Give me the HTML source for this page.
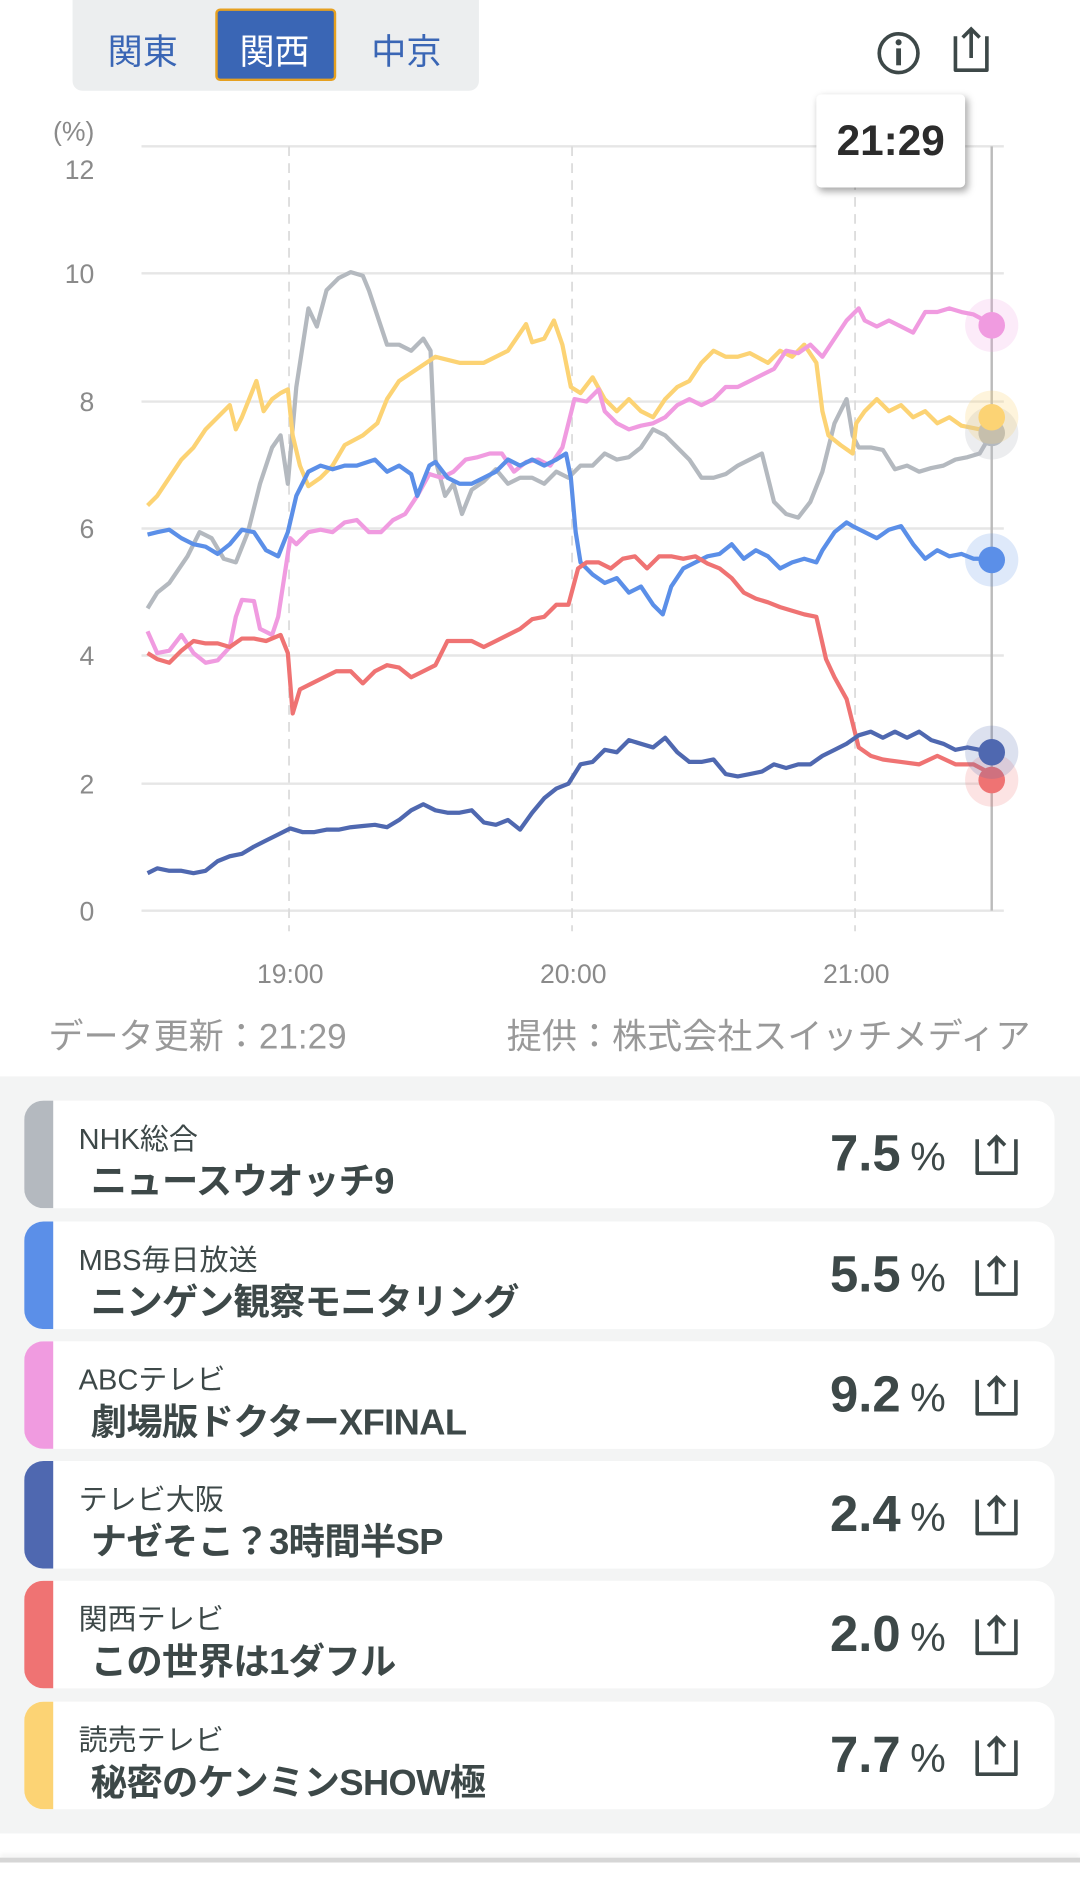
<!DOCTYPE html>
<html><head><meta charset="utf-8">
<style>
html,body{margin:0;padding:0;width:1080px;height:1896px;overflow:hidden;background:#fff}
#w{position:absolute;left:0;top:0;width:893px;height:1568px;transform:scale(1.20941);transform-origin:0 0;font-family:"Liberation Sans","Noto Sans CJK JP",sans-serif;color:#3d4848}
.abs{position:absolute}
.card{position:absolute;left:20px;width:852px;height:89px;background:#fff;border-radius:16px;overflow:hidden}
.bar{position:absolute;left:0;top:0;width:24px;height:89px}
.ch{position:absolute;left:45px;top:12px;font-size:24px;color:#3d4848;white-space:nowrap}
.pg{position:absolute;left:55px;top:42px;font-size:30px;font-weight:bold;color:#3d4848;white-space:nowrap;letter-spacing:-0.5px}
.val{position:absolute;right:90px;top:20px;font-size:42px;font-weight:bold;color:#3d4848;white-space:nowrap}
.val span{font-size:33px;font-weight:normal;margin-left:8px}
.sh{position:absolute;left:784px;top:26px}
</style></head><body><div id="w">
<div class="abs" style="left:60px;top:0;width:336px;height:75px;background:#eceeef;border-radius:0 0 8px 8px"></div>
<div class="abs" style="left:178px;top:7px;width:96px;height:56px;background:#3a66b5;border:2px solid #e6a020;border-radius:4px"></div>
<div class="abs" style="left:89px;top:20px;font-size:29px;color:#3a66b5">関東</div>
<div class="abs" style="left:198px;top:20px;font-size:29px;color:#fff">関西</div>
<div class="abs" style="left:307px;top:20px;font-size:29px;color:#3a66b5">中京</div>
<svg class="abs" style="left:0;top:0" width="893" height="900">
<circle cx="743" cy="44" r="16" fill="none" stroke="#3d4848" stroke-width="3"/>
<circle cx="743" cy="35" r="2.5" fill="#3d4848"/><rect x="741" y="40" width="4" height="14" fill="#3d4848"/>
<path d="M790 30 v28 h26 v-28" fill="none" stroke="#3d4848" stroke-width="3" stroke-linejoin="round"/>
<path d="M803 48 v-24 M796 31 l7 -7 l7 7" fill="none" stroke="#3d4848" stroke-width="3"/>
<g stroke="#e6e6e6" stroke-width="2">
<line x1="117" y1="121" x2="830" y2="121"/><line x1="117" y1="226" x2="830" y2="226"/><line x1="117" y1="332" x2="830" y2="332"/><line x1="117" y1="437" x2="830" y2="437"/><line x1="117" y1="542" x2="830" y2="542"/><line x1="117" y1="648" x2="830" y2="648"/><line x1="117" y1="753" x2="830" y2="753"/>
</g>
<g stroke="#dcdcdc" stroke-width="1.5" stroke-dasharray="8 6">
<line x1="239" y1="121" x2="239" y2="770"/><line x1="473" y1="121" x2="473" y2="770"/><line x1="707" y1="121" x2="707" y2="770"/>
</g>
<line x1="820" y1="121" x2="820" y2="753" stroke="#bbb" stroke-width="2"/>
<g font-size="22" fill="#8a8a8a" text-anchor="end">
<text x="78" y="116">(%)</text><text x="78" y="148">12</text><text x="78" y="234">10</text><text x="78" y="340">8</text><text x="78" y="445">6</text><text x="78" y="550">4</text><text x="78" y="656">2</text><text x="78" y="761">0</text>
</g>
<g font-size="22" fill="#8a8a8a" text-anchor="middle"><text x="240" y="813">19:00</text><text x="474" y="813">20:00</text><text x="708" y="813">21:00</text></g>
<g fill="none" stroke-width="3.5" stroke-linejoin="round">
<polyline stroke="#b4b9bf" points="122,503 130,490 140,482 155,460 165,440 175,445 185,462 195,465 205,440 215,400 225,370 232,360 238,400 245,320 255,255 262,270 270,240 280,230 290,225 300,228 305,240 315,270 320,285 330,285 340,290 350,280 356,290 360,380 368,410 375,400 382,425 390,405 400,398 410,388 420,400 430,395 440,395 450,400 460,390 470,395 480,385 490,385 500,375 510,380 520,378 530,370 540,355 550,360 560,370 570,380 580,395 590,395 600,392 610,385 620,380 630,375 640,415 650,425 660,428 670,415 680,390 690,350 700,330 705,360 710,370 720,370 730,372 740,388 750,385 760,390 770,387 780,385 790,380 800,378 810,375 820,358"/>
<polyline stroke="#fcd374" points="122,418 130,410 140,395 150,380 160,370 170,355 180,345 190,335 195,355 200,345 212,315 218,340 225,330 232,325 238,322 242,360 248,385 255,402 265,395 275,385 285,368 300,360 312,350 320,330 330,315 345,305 360,295 380,300 400,300 420,290 435,268 440,283 450,280 458,265 465,285 472,320 480,325 490,312 500,330 510,340 520,330 530,340 540,345 550,330 560,320 570,315 580,300 590,290 600,295 610,295 620,292 635,300 645,290 655,295 665,285 675,300 680,340 685,360 695,368 705,375 708,350 715,340 725,330 735,340 745,335 755,345 765,340 775,350 785,345 795,352 810,355 820,345"/>
<polyline stroke="#f09be0" points="122,522 130,540 140,538 150,525 160,540 170,548 180,546 190,535 195,510 200,496 210,497 215,520 225,525 230,510 240,445 245,450 255,440 265,438 275,440 285,432 295,430 305,440 315,440 325,430 335,425 345,410 355,392 365,395 375,390 385,380 395,378 405,375 415,375 425,390 435,382 445,380 455,385 465,370 475,330 485,332 495,322 500,340 510,350 520,355 530,352 540,350 550,345 560,335 570,330 580,335 590,330 600,320 610,320 620,315 630,310 640,305 650,290 660,292 670,285 680,295 690,280 700,265 710,255 715,265 725,270 735,265 745,270 755,275 765,258 775,258 785,255 795,258 805,260 820,268"/>
<polyline stroke="#5b8fe8" points="122,442 130,440 140,438 150,445 160,450 170,452 180,458 190,450 200,438 210,440 220,455 230,460 238,440 245,410 255,390 265,385 275,388 285,385 295,385 310,380 320,390 330,385 340,392 345,410 355,385 360,382 370,395 380,400 390,400 400,395 410,390 420,380 430,385 440,380 450,385 460,380 468,375 472,395 476,440 480,465 490,475 500,482 510,478 520,490 530,485 540,500 548,508 555,485 565,470 575,465 585,460 595,458 605,450 615,462 625,455 635,460 645,470 655,465 665,462 675,465 680,455 690,440 700,432 705,435 715,440 725,445 735,438 745,435 755,450 765,462 775,455 785,460 795,458 805,462 820,462"/>
<polyline stroke="#ef7373" points="122,540 130,545 140,548 150,538 160,530 170,532 180,532 190,535 200,528 210,528 220,530 232,525 238,540 242,590 248,570 258,565 268,560 278,555 290,555 300,565 310,555 320,550 330,552 340,560 350,555 360,550 370,530 380,530 390,530 400,535 410,530 420,525 430,520 440,512 450,510 460,500 470,500 478,470 485,465 495,465 505,470 515,462 525,460 535,470 545,460 555,460 565,462 575,460 585,466 595,470 605,478 615,490 625,495 635,498 645,502 655,505 665,508 675,510 683,545 690,560 700,578 710,618 720,625 730,628 745,630 760,632 775,625 790,632 805,632 820,640"/>
<polyline stroke="#4f68b0" points="122,722 130,718 140,720 150,720 160,722 170,720 180,712 190,708 200,706 210,700 220,695 230,690 240,685 250,688 260,688 270,686 280,686 290,684 300,683 310,682 320,684 330,678 340,670 350,665 360,670 370,672 380,672 390,670 400,680 410,682 420,678 430,686 440,672 450,660 460,652 470,648 480,632 490,630 500,620 510,622 520,612 530,615 540,618 550,610 560,622 570,630 580,630 590,628 600,640 610,642 620,640 630,638 640,632 650,635 660,632 670,632 680,625 690,620 700,615 710,608 720,605 730,610 740,605 750,610 760,605 770,612 780,615 790,620 800,618 820,622"/>
</g>
<g>
<circle cx="820" cy="269" r="22" fill="#f09be0" opacity=".2"/><circle cx="820" cy="269" r="11" fill="#f09be0"/>
<circle cx="820" cy="358" r="22" fill="#b4b9bf" opacity=".25"/><circle cx="820" cy="358" r="11" fill="#b4b9bf"/>
<circle cx="820" cy="345" r="22" fill="#fcd374" opacity=".25"/><circle cx="820" cy="345" r="11" fill="#fcd374"/>
<circle cx="820" cy="463" r="22" fill="#5b8fe8" opacity=".2"/><circle cx="820" cy="463" r="11" fill="#5b8fe8"/>
<circle cx="820" cy="645" r="22" fill="#ef7373" opacity=".2"/><circle cx="820" cy="645" r="11" fill="#ef7373"/>
<circle cx="820" cy="622" r="22" fill="#4f68b0" opacity=".2"/><circle cx="820" cy="622" r="11" fill="#4f68b0"/>
</g>
</svg>
<div class="abs" style="left:675px;top:78px;width:123px;height:77px;background:#fff;border-radius:4px;box-shadow:2px 3px 6px rgba(0,0,0,.35);text-align:center;line-height:77px;font-size:35px;font-weight:bold;color:#2c2c2c">21:29</div>
<div class="abs" style="left:40px;top:834px;font-size:29px;color:#999">データ更新：21:29</div>
<div class="abs" style="right:41px;top:834px;font-size:29px;color:#999">提供：株式会社スイッチメディア</div>
<div class="abs" style="left:0;top:890px;width:893px;height:626px;background:#f3f4f4"></div>
<div class="abs" style="left:0;top:1536px;width:893px;height:4px;background:#d6d6d6;box-shadow:0 -3px 4px rgba(0,0,0,.05)"></div>

<div class="card" style="top:910px"><div class="bar" style="background:#b4b9bf"></div><div class="ch">NHK総合</div><div class="pg">ニュースウオッチ9</div><div class="val">7.5<span>%</span></div><svg class="sh" width="40" height="40"><path d="M4 6 v28 h32 v-28" fill="none" stroke="#3d4848" stroke-width="3" stroke-linejoin="round"/><path d="M20 26 v-22 M13 11 l7 -7 l7 7" fill="none" stroke="#3d4848" stroke-width="3"/></svg></div>
<div class="card" style="top:1010px"><div class="bar" style="background:#5b8fe8"></div><div class="ch">MBS毎日放送</div><div class="pg">ニンゲン観察モニタリング</div><div class="val">5.5<span>%</span></div><svg class="sh" width="40" height="40"><path d="M4 6 v28 h32 v-28" fill="none" stroke="#3d4848" stroke-width="3" stroke-linejoin="round"/><path d="M20 26 v-22 M13 11 l7 -7 l7 7" fill="none" stroke="#3d4848" stroke-width="3"/></svg></div>
<div class="card" style="top:1109px"><div class="bar" style="background:#f09be0"></div><div class="ch">ABCテレビ</div><div class="pg">劇場版ドクターXFINAL</div><div class="val">9.2<span>%</span></div><svg class="sh" width="40" height="40"><path d="M4 6 v28 h32 v-28" fill="none" stroke="#3d4848" stroke-width="3" stroke-linejoin="round"/><path d="M20 26 v-22 M13 11 l7 -7 l7 7" fill="none" stroke="#3d4848" stroke-width="3"/></svg></div>
<div class="card" style="top:1208px"><div class="bar" style="background:#4f68b0"></div><div class="ch">テレビ大阪</div><div class="pg">ナゼそこ？3時間半SP</div><div class="val">2.4<span>%</span></div><svg class="sh" width="40" height="40"><path d="M4 6 v28 h32 v-28" fill="none" stroke="#3d4848" stroke-width="3" stroke-linejoin="round"/><path d="M20 26 v-22 M13 11 l7 -7 l7 7" fill="none" stroke="#3d4848" stroke-width="3"/></svg></div>
<div class="card" style="top:1307px"><div class="bar" style="background:#ef7373"></div><div class="ch">関西テレビ</div><div class="pg">この世界は1ダフル</div><div class="val">2.0<span>%</span></div><svg class="sh" width="40" height="40"><path d="M4 6 v28 h32 v-28" fill="none" stroke="#3d4848" stroke-width="3" stroke-linejoin="round"/><path d="M20 26 v-22 M13 11 l7 -7 l7 7" fill="none" stroke="#3d4848" stroke-width="3"/></svg></div>
<div class="card" style="top:1407px"><div class="bar" style="background:#fcd374"></div><div class="ch">読売テレビ</div><div class="pg">秘密のケンミンSHOW極</div><div class="val">7.7<span>%</span></div><svg class="sh" width="40" height="40"><path d="M4 6 v28 h32 v-28" fill="none" stroke="#3d4848" stroke-width="3" stroke-linejoin="round"/><path d="M20 26 v-22 M13 11 l7 -7 l7 7" fill="none" stroke="#3d4848" stroke-width="3"/></svg></div>
</div></body></html>
